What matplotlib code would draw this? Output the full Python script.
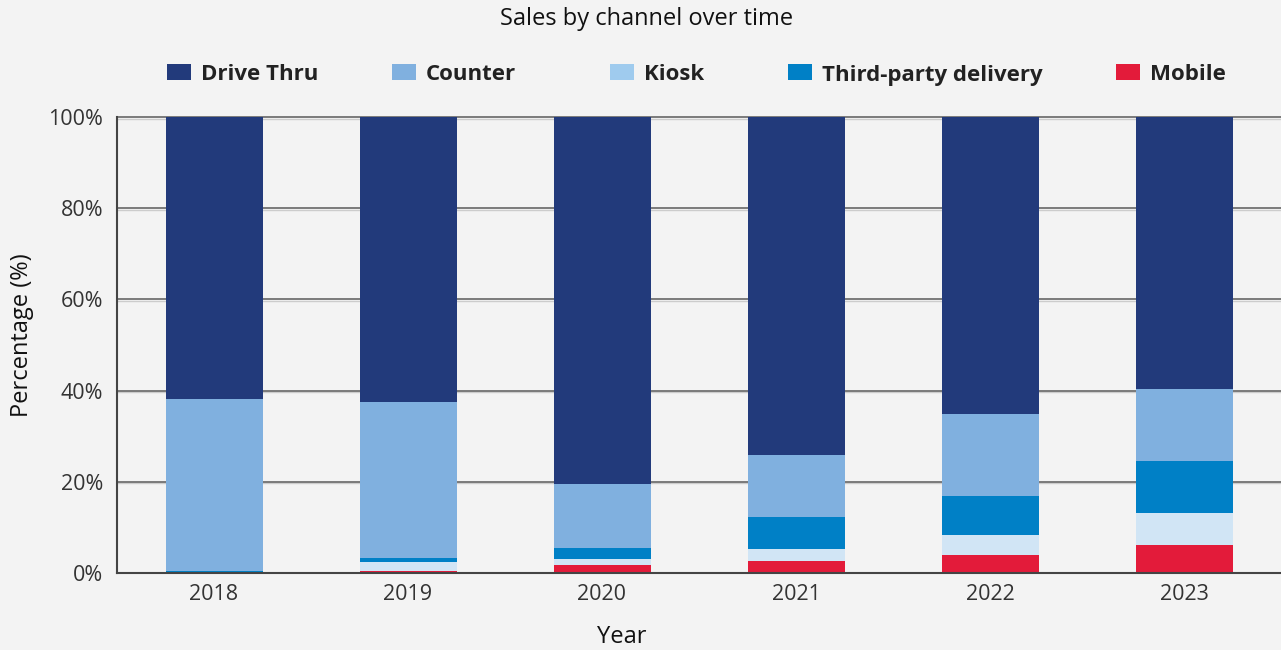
import matplotlib
matplotlib.use("Agg")
import matplotlib.pyplot as plt
from matplotlib.patches import Rectangle
from matplotlib.ticker import FuncFormatter
import numpy as np

plt.rcParams['font.family'] = ['Open Sans', 'DejaVu Sans']

years = ["2018", "2019", "2020", "2021", "2022", "2023"]
mobile = [0.0, 0.4, 1.75, 2.6, 3.9, 6.1]
kiosk = [0.0, 2.0, 1.35, 2.7, 4.4, 7.1]
third_party = [0.4, 0.9, 2.4, 7.0, 8.6, 11.4]
counter = [37.8, 34.2, 14.0, 13.6, 18.0, 15.8]
drive_thru = [100 - (m + k + t + c) for m, k, t, c in zip(mobile, kiosk, third_party, counter)]

series = [
    ("Mobile", mobile, "#e31b3a"),
    ("Kiosk", kiosk, "#d1e5f5"),
    ("Third-party delivery", third_party, "#0080c6"),
    ("Counter", counter, "#80b0df"),
    ("Drive Thru", drive_thru, "#223a7b"),
]
legend_names = ["Drive Thru", "Counter", "Kiosk", "Third-party delivery", "Mobile"]
legend_colors = ["#223a7b", "#80b0df", "#9fcbee", "#0080c6", "#e31b3a"]
legend_x_px = [167, 392, 610, 788, 1116]

W, H = 1281, 650
bg = "#f3f3f3"
fig = plt.figure(figsize=(W / 100, H / 100), dpi=100, facecolor=bg)
ax = fig.add_axes([117 / W, 1 - 573 / H, 1 - 117 / W, (573 - 117) / H])
ax.set_facecolor(bg)

x = np.arange(len(years))
bottom = np.zeros(len(years))
for name, vals, col in series:
    ax.bar(x, vals, width=0.5, bottom=bottom, color=col, zorder=3, linewidth=0)
    bottom += np.array(vals)

ax.set_xlim(-0.5, len(years) - 0.5)
ax.set_ylim(0, 100)
for yv in [20, 40, 60, 80, 100]:
    ax.axhline(yv, color="#5a5a5a", lw=1.1, zorder=1, clip_on=False)
    ax.axhline(yv - 0.33, color="#cccccc", lw=1.0, zorder=0.9, clip_on=False)

ax.set_yticks([0, 20, 40, 60, 80, 100])
ax.yaxis.set_major_formatter(FuncFormatter(lambda v, p: f"{int(v)}%"))
ax.set_xticks(x)
ax.set_xticklabels(years)
ax.tick_params(axis="both", length=0, labelsize=15.5, colors="#333333")
ax.tick_params(axis="x", pad=8)
ax.tick_params(axis="y", pad=10)

for s in ["top", "right"]:
    ax.spines[s].set_visible(False)
for s in ["left", "bottom"]:
    ax.spines[s].set_color("#444444")
    ax.spines[s].set_linewidth(1.5)
    ax.spines[s].set_zorder(4)

fig.text(622 / W, 1 - 637 / H, "Year", ha="center", va="center", fontsize=17, color="#111111")
fig.text(22 / W, 1 - 335 / H, "Percentage (%)", ha="center", va="center", rotation=90,
         fontsize=17, color="#111111")
fig.text(647 / W, 1 - 19 / H, "Sales by channel over time", ha="center", va="center",
         fontsize=17, color="#111111")

for name, col, px in zip(legend_names, legend_colors, legend_x_px):
    fig.add_artist(Rectangle((px / W, 1 - 80 / H), 24 / W, 16 / H, transform=fig.transFigure,
                             facecolor=col, edgecolor="none"))
    fig.text((px + 34) / W, 1 - 75 / H, name, ha="left", va="center", fontsize=16,
             fontweight="bold", color="#222222")

fig.savefig("out.png", dpi=100, facecolor=bg)
